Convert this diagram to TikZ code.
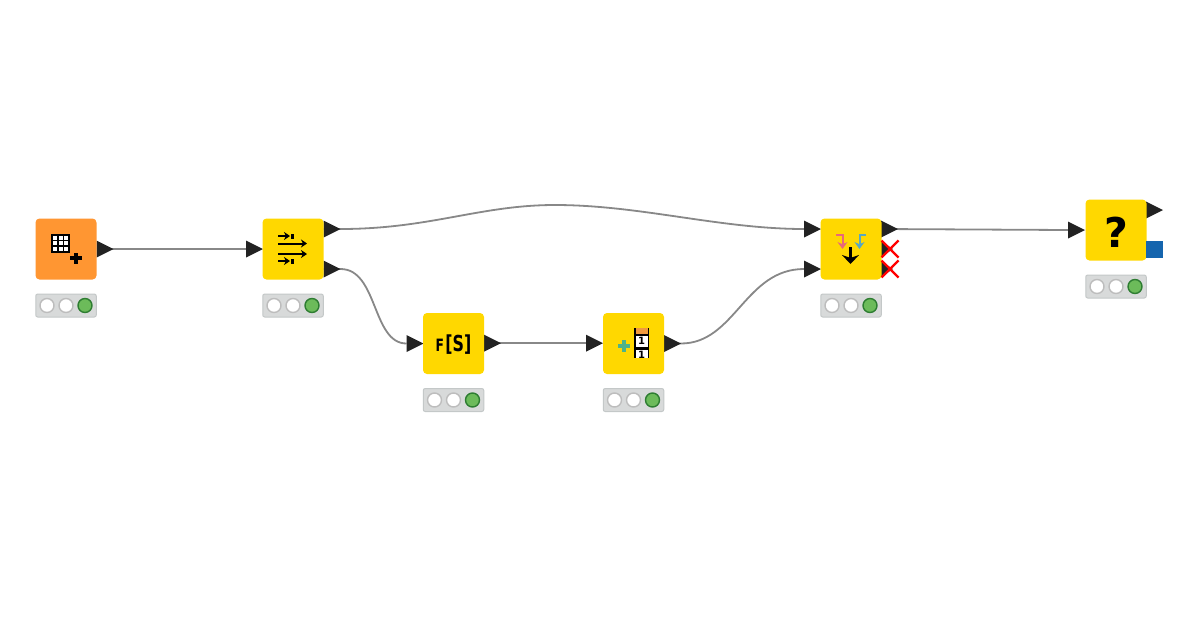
\documentclass[tikz,border=0pt]{standalone}
\usepackage{fontspec}
\setsansfont{DejaVu Sans}
\usetikzlibrary{arrows.meta}
\definecolor{nodeyellow}{HTML}{FFD800}
\definecolor{nodeorange}{HTML}{FF9632}
\definecolor{portdark}{HTML}{222222}
\definecolor{wiregray}{HTML}{888888}
\definecolor{barfill}{HTML}{D8DADA}
\definecolor{barline}{HTML}{C4C8C8}
\definecolor{lampring}{HTML}{BDBDBD}
\definecolor{lampgreen}{HTML}{6CBB5A}
\definecolor{lampline}{HTML}{2E7D32}
\definecolor{flowblue}{HTML}{1565AE}
\definecolor{plusgreen}{HTML}{4DB38A}
\definecolor{headorange}{HTML}{F09A3E}
\definecolor{splitred}{HTML}{E8697A}
\definecolor{splitblue}{HTML}{5AA7C0}
\tikzset{
  nodebox/.style={minimum size=61pt,inner sep=0pt,rounded corners=4pt},
  statusbar/.style={draw=barline,fill=barfill,line width=1pt,minimum width=60.5pt,minimum height=23pt,inner sep=0pt,rounded corners=2pt},
  lamp/.style={circle,draw=lampring,fill=white,line width=1.4pt,minimum size=14pt,inner sep=0pt},
  lampon/.style={lamp,draw=lampline,fill=lampgreen},
  wire/.style={draw=wiregray,line width=1.8pt},
  porttip/.style={fill=portdark},
  failmark/.style={draw=red,line width=2.4pt},
  iconarrow/.style={line width=2pt,-{Stealth[length=6pt,width=8pt]}}
}
\begin{document}
\begin{tikzpicture}[x=1pt,y=-1pt]
  \useasboundingbox (0,0) rectangle (1200,630);
  \fill [white] (0,0) rectangle (1200,630);
  % ports, base of each triangle
  \foreach \pname/\x/\y in {oneout/96.5/249,twoin/246/249,twotop/323.5/229,twolow/323.5/269,
      threein/406.5/343.5,threeout/484/343.2,fourin/586/343.2,fourout/664/343.5,
      fivetop/804/229,fivelow/804/269,fiveout/881/229,fivex/881/249,fivey/881/269,
      sixin/1068/230,sixout/1146/210}
    \coordinate (\pname) at (\x,\y);
  \coordinate (peak) at (555,205);
  % wires
  \draw [wire] (oneout) -- (twoin);
  \draw [wire] (twotop) -- ++(17,0) .. controls (430,229) and (480,205) .. (peak)
    .. controls (640,205) and (720,229) .. (fivetop);
  \draw [wire] (twolow) -- ++(17,0) .. controls (378,269) and (372,343.5) .. (threein);
  \draw [wire] (threeout) -- (fourin);
  \draw [wire] (fourout) -- ++(17,0) .. controls (735,343.5) and (745,269) .. (fivelow);
  \draw [wire] (fiveout) -- (sixin);
  \foreach \pname in {oneout,twoin,twotop,twolow,threein,threeout,fourin,fourout,fivetop,fivelow,fiveout,sixin,sixout}
    \fill [porttip] (\pname) ++(0,-8.5) -- ++(17,8.5) -- ++(-17,8.5) -- cycle;
  \foreach \pname in {fivex,fivey}
    \fill [porttip] (\pname) ++(0,-8) -- ++(12,8) -- ++(-12,8) -- cycle;
  % node bodies and status bars
  \foreach \n/\x/\y/\c in {one/66/249/nodeorange,two/293/249/nodeyellow,three/453.5/343.5/nodeyellow,
      four/633.5/343.5/nodeyellow,five/851/249/nodeyellow,six/1116/230/nodeyellow} {
    \node [nodebox,fill=\c] (\n) at (\x,\y) {};
    \node [statusbar] (\n bar) at (\x,\y+56.5) {};
    \node [lamp] (\n lampa) at (\x-19,\y+56.5) {};
    \node [lamp] (\n lampb) at (\x,\y+56.5) {};
    \node [lampon] (\n lampc) at (\x+19,\y+56.5) {};
  }
  % table icon
  \fill (51,234) rectangle (70,252.5);
  \foreach \x in {53,58.8,64.4}
    \foreach \y in {235.8,241.4,247}
      \fill [white] (\x,\y) rectangle +(3.8,3.8);
  \fill (70,256.2) rectangle (81.5,260.2);
  \fill (73.7,252.5) rectangle (77.7,264);
  % splitter icon
  \draw [iconarrow] (278,236) -- (290,236);
  \fill (291,233.5) rectangle (293.5,239);
  \draw [iconarrow] (278,243.5) -- (307,243.5);
  \draw [iconarrow] (278,254) -- (307,254);
  \draw [iconarrow] (278,261) -- (290,261);
  \fill (291,258.5) rectangle (293.5,264);
  % formula icon
  \node [inner sep=0pt,font=\sffamily\bfseries] (fslabel) at (453.5,344.5)
    {\scalebox{0.72}[1]{\fontsize{17}{17}\selectfont F\hspace{2pt}\fontsize{22}{22}\selectfont [S]}};
  % column icon
  \fill [plusgreen] (618,343.5) rectangle (630,348);
  \fill [plusgreen] (621.8,339.5) rectangle (626.2,352);
  \fill (634,328) rectangle (649,358);
  \fill [headorange] (635.5,328) rectangle (647.5,333.5);
  \fill [white] (635.5,336) rectangle (647.5,346.5);
  \fill [white] (635.5,349.5) rectangle (647.5,358);
  \node [inner sep=0pt,font=\sffamily\bfseries\fontsize{10}{10}\selectfont] (digita) at (641.5,341.3) {1};
  \node [inner sep=0pt,font=\sffamily\bfseries\fontsize{10}{10}\selectfont] (digitb) at (641.5,354.5) {1};
  % joiner icon
  \draw [splitred,line width=2pt,-{Stealth[length=7pt,width=10pt]}] (836,234.5) -- (842.5,234.5) -- (842.5,249);
  \draw [splitblue,line width=2pt,-{Stealth[length=7pt,width=10pt]}] (866,234.5) -- (859.5,234.5) -- (859.5,249);
  \draw [line width=3pt,-{Stealth[length=9pt,width=17pt]}] (850.5,247) -- (850.5,264);
  % failed ports
  \foreach \pname in {fivex,fivey} {
    \draw [failmark] (\pname) ++(0.5,-8.5) -- ++(17,17);
    \draw [failmark] (\pname) ++(0.5,8.5) -- ++(17,-17);
  }
  % unknown node
  \node [inner sep=0pt,font=\sffamily\bfseries\fontsize{41}{41}\selectfont] (mark) at (1116,232) {?};
  \fill [flowblue] (1146,241) rectangle (1163,258);
\end{tikzpicture}
\end{document}
